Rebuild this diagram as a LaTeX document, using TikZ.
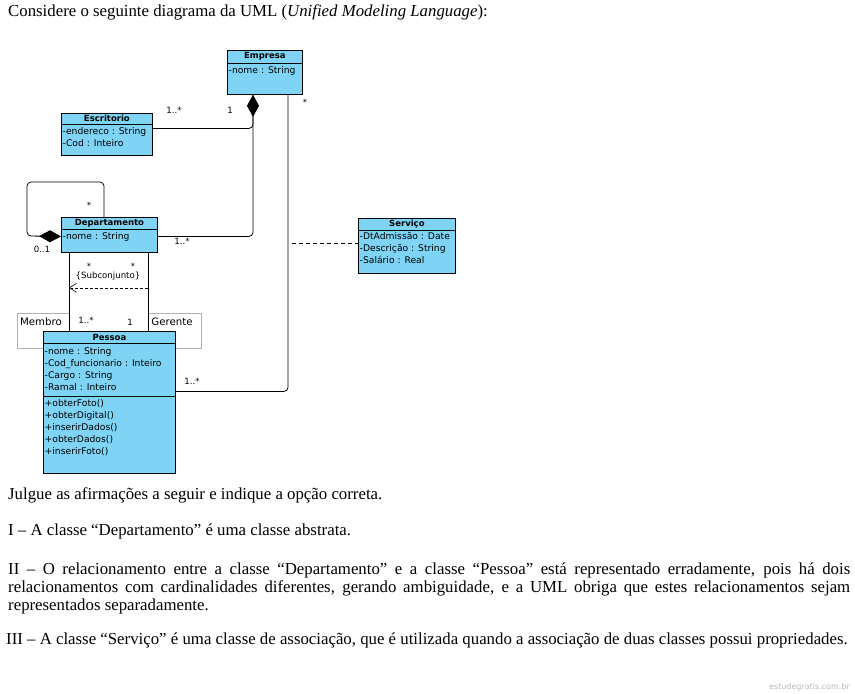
\documentclass[tikz,border=0pt]{standalone}
\usepackage{fontspec}
\setmainfont{Liberation Serif}
\newfontfamily\umlfont{DejaVu Sans}
\usetikzlibrary{arrows.meta}
\definecolor{classblue}{RGB}{127,212,245}
\definecolor{rolegray}{RGB}{175,175,175}
\hyphenation{relacionamentos representados separadamente cardinalidades}

\begin{document}
\begin{tikzpicture}[x=1pt,y=-1pt]
    \tikzset { classbox/.style = { draw, fill=classblue, line width=0.8pt, anchor=north west, inner sep=0pt } }
    \tikzset { classname/.style = { font=\umlfont\bfseries\fontsize{8.5}{10}\selectfont, inner sep=0pt } }
    \tikzset { attr/.style = { font=\umlfont\fontsize{9.2}{10}\selectfont, anchor=west, inner sep=0pt, text height=6.5pt, text depth=2pt } }
    \tikzset { mult/.style = { font=\umlfont\fontsize{8.6}{10}\selectfont, inner sep=0pt } }
    \tikzset { rolename/.style = { font=\umlfont\fontsize{10.2}{12}\selectfont, inner sep=0pt } }
    \tikzset { rolebox/.style = { draw=rolegray, line width=0.5pt, anchor=north west, inner sep=0pt } }
    \tikzset { assoc/.style = { line width=0.8pt, rounded corners=4pt } }
    \tikzset { comp/.style = { assoc, -{Diamond[length=22pt,width=12pt]} } }
    \tikzset { body/.style = { font=\fontsize{16.8}{18}\selectfont, anchor=west, inner sep=0pt } }

    \fill[white] (0,0) rectangle (855,694);
    \useasboundingbox (0,0) rectangle (855,694);

    \node[body] (intro) at (8,12) {Considere o seguinte diagrama da UML (\textit{Unified Modeling Language}):};

    \node[rolebox, minimum width=52, minimum height=35] (membro) at (17,313) {};
    \node[rolebox, minimum width=53, minimum height=35] (gerente) at (148,313) {};

    \node[classbox, minimum width=75, minimum height=44] (empresa) at (227,50) {};
    \node[classbox, minimum width=91, minimum height=42] (escritorio) at (61,113) {};
    \node[classbox, minimum width=96, minimum height=35] (departamento) at (61,217) {};
    \node[classbox, minimum width=97, minimum height=55] (servico) at (358,218) {};
    \node[classbox, minimum width=132, minimum height=142] (pessoa) at (43,331) {};

    \foreach \c/\h in {empresa/13, escritorio/11, departamento/12, servico/12, pessoa/12}
      \draw[line width=0.8pt] ([yshift=-\h]\c.north west) -- ([yshift=-\h]\c.north east);
    \draw[line width=0.8pt] ([yshift=-65]pessoa.north west) -- ([yshift=-65]pessoa.north east);

    \node[classname] (empresaname) at ([yshift=-6.5]empresa.north) {Empresa};
    \node[classname] (escritorioname) at ([yshift=-5.5]escritorio.north) {Escritorio};
    \node[classname] (departamentoname) at ([yshift=-6]departamento.north) {Departamento};
    \node[classname] (serviconame) at ([yshift=-6]servico.north) {Serviço};
    \node[classname] (pessoaname) at ([yshift=-6]pessoa.north) {Pessoa};

    \node[attr] (empresaattr) at ([xshift=1.5,yshift=-21]empresa.north west) {-nome : String};
    \foreach \t [count=\i] in {-endereco : String, -Cod : Inteiro}
      \node[attr] (escritorioattr\i) at ([xshift=1.5,yshift=-7-12*\i]escritorio.north west) {\t};
    \node[attr] (departamentoattr) at ([xshift=1.5,yshift=-20]departamento.north west) {-nome : String};
    \foreach \t [count=\i] in {-DtAdmissão : Date, -Descrição : String, -Salário : Real}
      \node[attr] (servicoattr\i) at ([xshift=1.5,yshift=-7-12*\i]servico.north west) {\t};
    \foreach \t [count=\i] in {-nome : String, -Cod\_funcionario : Inteiro, -Cargo : String, -Ramal : Inteiro}
      \node[attr] (pessoaattr\i) at ([xshift=1.5,yshift=-9-12*\i]pessoa.north west) {\t};
    \foreach \t [count=\i] in {+obterFoto(), +obterDigital(), +inserirDados(), +obterDados(), +inserirFoto()}
      \node[attr] (pessoaop\i) at ([xshift=1.5,yshift=-61-12*\i]pessoa.north west) {\t};

    \draw[assoc] ([yshift=-1.5]departamento.east) -| ([xshift=26]empresa.south west);
    \draw[comp] ([yshift=6]escritorio.east) -| ([xshift=26]empresa.south west);
    \draw[assoc] ([xshift=61]empresa.south west) |- ([yshift=11]pessoa.east);
    \draw[comp] ([xshift=43]departamento.north west) -- ++(0,-35) -- ++(-77,0) -- ++(0,54) -- ([yshift=-1.5]departamento.west);

    \coordinate (assocpt) at (292,243);
    \draw[line width=0.8pt, dash pattern=on 4pt off 3pt] (assocpt) -- (assocpt -| servico.west);

    \coordinate (membrotop) at ([xshift=8]departamento.south west);
    \coordinate (gerentetop) at ([xshift=87]departamento.south west);
    \draw[assoc] (membrotop) -- (membrotop |- pessoa.north);
    \draw[assoc] (gerentetop) -- (gerentetop |- pessoa.north);
    \draw[line width=0.6pt, dash pattern=on 3pt off 2pt, -{Straight Barb[length=7pt,width=9pt]}] ([yshift=-35]gerentetop) -- ([yshift=-35]membrotop);

    \node[mult] (escmult) at (174,110) {1..*};
    \node[mult] (empescmult) at (230,110) {1};
    \node[mult] (empmult) at (305,102) {*};
    \node[mult] (deptmult) at (182,241) {1..*};
    \node[mult] (subdept) at (89,205) {*};
    \node[mult] (superdept) at (42,249) {0..1};
    \node[mult] (membromult) at (89,266) {*};
    \node[mult] (gerentemult) at (133,266) {*};
    \node[mult] (subset) at (108,276) {\{Subconjunto\}};
    \node[rolename] (membroname) at (41,322) {Membro};
    \node[mult] (pessoamembro) at (86,320) {1..*};
    \node[mult] (pessoagerente) at (130,322) {1};
    \node[rolename] (gerentename) at (172,322) {Gerente};
    \node[mult] (pessoamult) at (192,381) {1..*};

    \node[body] (julgue) at (8,495) {Julgue as afirmações a seguir e indique a opção correta.};
    \node[body] (afirmI) at (8,531) {I – A classe “Departamento” é uma classe abstrata.};
    \node[body, anchor=north west, text width=842, align=justify] (afirmII) at (8,563) {\tolerance=3000 II – O relacionamento entre a classe “Departamento” e a classe “Pessoa” está representado erradamente, pois há dois relacionamentos com cardinalidades diferentes, gerando ambiguidade, e a UML obriga que estes relacionamentos sejam representados separadamente.};
    \node[body] (afirmIII) at (6,640) {III – A classe “Serviço” é uma classe de associação, que é utilizada quando a associação de duas classes possui propriedades.};

    \node[font=\umlfont\fontsize{8}{10}\selectfont, text=gray!55, anchor=east, inner sep=0pt] (site) at (850,687) {estudegratis.com.br};
\end{tikzpicture}
\end{document}
